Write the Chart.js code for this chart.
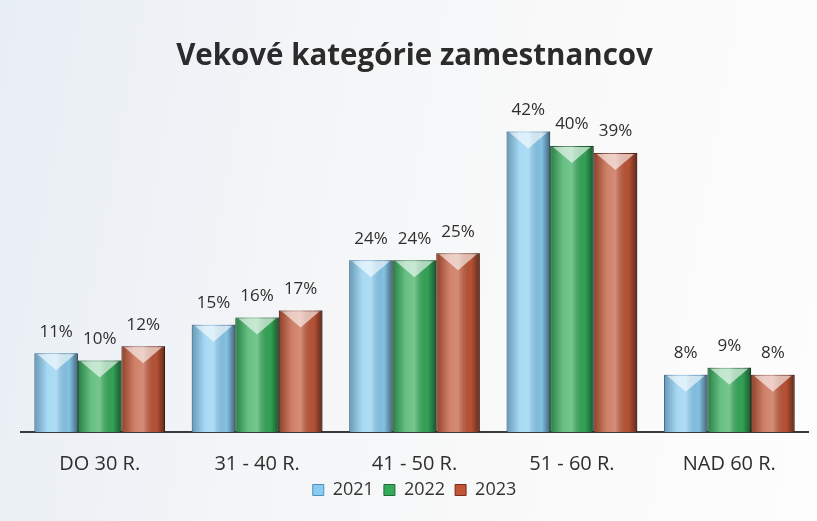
<!DOCTYPE html>
<html>
<head>
<meta charset="utf-8">
<script src="https://cdn.jsdelivr.net/npm/chart.js@4/dist/chart.umd.min.js"></script>
<style>
  html, body { margin: 0; padding: 0; }
  body {
    width: 817px; height: 521px; overflow: hidden;
    background: linear-gradient(100deg, #e8eef5 0%, #f3f5f7 35%, #fafafa 70%, #fdfdfd 100%);
  }
  #wrap { position: relative; width: 817px; height: 521px; }
</style>
</head>
<body>
<div id="wrap"><canvas id="chart"></canvas></div>
<script>
// chart data
const categories = ['DO 30 R.', '31 - 40 R.', '41 - 50 R.', '51 - 60 R.', 'NAD 60 R.'];
const years = ['2021', '2022', '2023'];
const values2021 = [11, 15, 24, 42, 8];
const values2022 = [10, 16, 24, 40, 9];
const values2023 = [12, 17, 25, 39, 8];
const colors = ['#8accf0', '#35ab5a', '#c05637'];
const edges = ['#4f8fc4', '#1f6a37', '#7a2e1e'];

// cylinder-like shading plus value labels above bars
const barLook = {
  id: 'barLook',
  afterDatasetsDraw(chart) {
    const ctx = chart.ctx;
    chart.data.datasets.forEach((ds, i) => {
      const meta = chart.getDatasetMeta(i);
      meta.data.forEach((bar, j) => {
        const {x, y, base, width} = bar.getProps(['x', 'y', 'base', 'width'], true);
        const left = x - width / 2;
        ctx.save();
        let g = ctx.createLinearGradient(left, 0, left + width, 0);
        g.addColorStop(0, 'rgba(0,0,0,0.25)');
        g.addColorStop(0.3, 'rgba(255,255,255,0.25)');
        g.addColorStop(0.5, 'rgba(255,255,255,0.32)');
        g.addColorStop(0.8, 'rgba(0,0,0,0.05)');
        g.addColorStop(1, 'rgba(0,0,0,0.5)');
        ctx.fillStyle = g;
        ctx.fillRect(left, y, width, base - y);
        // top highlight
        ctx.beginPath();
        ctx.moveTo(left + 3, y + 1);
        ctx.lineTo(x, y + 17);
        ctx.lineTo(left + width - 3, y + 1);
        ctx.closePath();
        ctx.fillStyle = 'rgba(255,255,255,0.6)';
        ctx.fill();
        // label
        ctx.fillStyle = '#2e2e2e';
        ctx.font = '17px "Open Sans", sans-serif';
        ctx.textAlign = 'center';
        ctx.textBaseline = 'bottom';
        ctx.fillText(ds.data[j] + '%', x, y - 13);
        ctx.restore();
      });
    });
  }
};

const datasets = [values2021, values2022, values2023].map((vals, i) => ({
  label: years[i],
  data: vals,
  backgroundColor: colors[i],
  borderColor: edges[i],
  borderWidth: 1,
  categoryPercentage: 0.83,
  barPercentage: 1.0
}));

new Chart(document.getElementById('chart'), {
  type: 'bar',
  data: { labels: categories, datasets: datasets },
  plugins: [barLook],
  options: {
    responsive: true,
    maintainAspectRatio: false,
    animation: false,
    layout: { padding: { left: 21, right: 9, top: 39, bottom: 12 } },
    plugins: {
      title: {
        display: true,
        text: 'Vekové kategórie zamestnancov',
        color: '#2b2b2b',
        font: { family: '"Open Sans", sans-serif', size: 29.5, weight: 'bold' },
        padding: { top: 0, bottom: 0 }
      },
      legend: {
        position: 'bottom',
        labels: {
          color: '#333',
          font: { family: '"Open Sans", sans-serif', size: 18 },
          boxWidth: 11, boxHeight: 11, padding: 10
        }
      },
      tooltip: { enabled: false }
    },
    scales: {
      x: {
        grid: { display: false },
        border: { color: '#3a3a3a', width: 2 },
        ticks: { color: '#2e2e2e', padding: 12, font: { family: '"Open Sans", sans-serif', size: 20 } },
        afterFit: s => { s.height = 39; }
      },
      y: {
        display: false,
        min: 0,
        max: 50
      }
    }
  }
});
</script>
</body>
</html>
